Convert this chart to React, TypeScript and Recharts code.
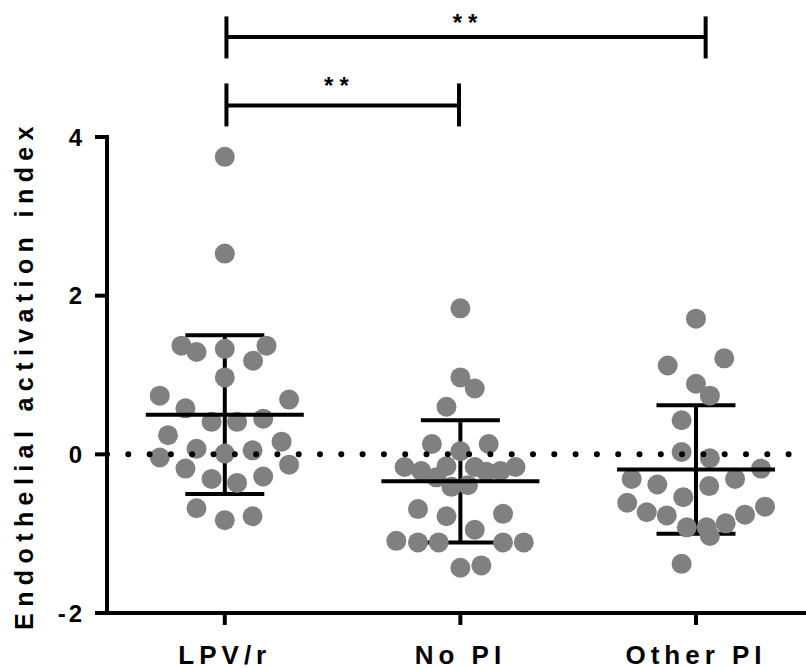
import React from 'react';
import {
  ScatterChart,
  Scatter,
  XAxis,
  YAxis,
  ErrorBar,
  ReferenceLine,
  ReferenceDot,
} from 'recharts';

const FONT = '"Liberation Sans", Arial, Helvetica, sans-serif';
const DOT_COLOR = '#808080';

const groups = ['LPV/r', 'No PI', 'Other PI'];
const yTicks = [-2, 0, 2, 4];

// individual values; jitter = horizontal spread in category units
const lpvValues = [
  3.75, 2.53, 1.37, 1.29, 1.33, 1.37, 1.18, 0.97, 0.74, 0.69, 0.58, 0.41, 0.41, 0.45,
  0.24, 0.07, 0.01, 0.05, 0.16, -0.04, -0.13, -0.18, -0.31, -0.36, -0.28, -0.68, -0.83, -0.78,
];
const lpvJitter = [
  0, 0, -0.184, -0.12, 0, 0.177, 0.12, 0, -0.276, 0.273, -0.167, -0.056, 0.052, 0.163,
  -0.241, -0.12, 0, 0.118, 0.241, -0.276, 0.273, -0.167, -0.056, 0.052, 0.163, -0.12, 0, 0.118,
];

const noPiValues = [
  1.84, 0.97, 0.83, 0.6, 0.13, 0.13, 0.04, -0.16, -0.21, -0.15, -0.29, -0.16, -0.22, -0.21,
  -0.16, -0.41, -0.39, -0.69, -0.78, -0.75, -0.95, -1.09, -1.11, -1.11, -1.11, -1.11, -1.43, -1.4,
];
const noPiJitter = [
  0, 0, 0.061, -0.059, -0.121, 0.12, 0, -0.237, -0.166, -0.059, -0.102, 0.061, 0.11, 0.17,
  0.234, -0.038, 0.032, -0.18, -0.059, 0.181, 0.061, -0.272, -0.18, -0.092, 0.181, 0.269, 0, 0.089,
];

const otherPiValues = [
  1.71, 1.12, 1.21, 0.89, 0.74, 0.43, 0.03, -0.05, -0.18, -0.31, -0.38, -0.31, -0.4, -0.54,
  -0.61, -0.66, -0.73, -0.77, -0.76, -0.92, -0.92, -0.87, -1.03, -1.38,
];
const otherPiJitter = [
  0, -0.12, 0.12, 0, 0.059, -0.061, -0.061, 0.059, 0.276, -0.273, -0.164, 0.166, 0.056, -0.054,
  -0.292, 0.293, -0.209, -0.124, 0.208, -0.039, 0.045, 0.126, 0.059, -0.061,
];

// mean +/- SD per group
const means = [0.5, -0.34, -0.19];
const sds = [1.0, 0.77, 0.81];

const toPoints = (values: number[], jitter: number[], pos: number) =>
  values.map((v, i) => ({ x: pos + jitter[i], y: v }));

const lpvPoints = toPoints(lpvValues, lpvJitter, 1);
const noPiPoints = toPoints(noPiValues, noPiJitter, 2);
const otherPiPoints = toPoints(otherPiValues, otherPiJitter, 3);
const meanPoints = means.map((m, i) => ({ x: i + 1, y: m, sd: sds[i] }));
const zeroLine = [
  { x: 0.5, y: 0 },
  { x: 3.467, y: 0 },
];

const Dot = (p: any) => <circle cx={p.cx} cy={p.cy} r={10} fill={DOT_COLOR} />;
const MeanBar = (p: any) => (
  <line x1={p.cx - 79} x2={p.cx + 79} y1={p.cy} y2={p.cy} stroke="#000" strokeWidth={4} />
);
const Stars = (p: any) => (
  <text
    x={p.cx}
    y={p.cy}
    dx={3}
    textAnchor="middle"
    fontFamily={FONT}
    fontWeight={700}
    fontSize={24}
    letterSpacing={6}
    fill="#000"
  >
    **
  </text>
);

const YTitle = (props: any) => {
  const vb = props.viewBox || { y: 137, height: 476 };
  const cy = vb.y + vb.height / 2;
  return (
    <text
      x={33}
      y={cy}
      transform={`rotate(-90 33 ${cy})`}
      textAnchor="middle"
      fontFamily={FONT}
      fontWeight={700}
      fontSize={25}
      letterSpacing={6.4}
      fill="#000"
    >
      Endothelial activation index
    </text>
  );
};

const bracket = { stroke: '#000', strokeWidth: 4, ifOverflow: 'visible' as const };

export default function App() {
  return (
    <div style={{ position: 'absolute', left: 0, top: 0, background: '#fff' }}>
      <ScatterChart width={806} height={669} margin={{ top: 137, right: 0, bottom: 0, left: 0 }}>
        <XAxis
          type="number"
          dataKey="x"
          domain={[0.5, 3.467]}
          ticks={[1, 2, 3]}
          tickFormatter={(v: number) => groups[v - 1]}
          allowDataOverflow
          height={56}
          tickSize={12}
          tickMargin={21}
          axisLine={{ stroke: '#000', strokeWidth: 4, strokeLinecap: 'square' }}
          tickLine={{ stroke: '#000', strokeWidth: 4 }}
          tick={{ fill: '#000', fontSize: 26, fontWeight: 700, fontFamily: FONT, letterSpacing: 5 }}
        />
        <YAxis
          type="number"
          dataKey="y"
          domain={[-2, 4]}
          ticks={yTicks}
          allowDataOverflow
          width={107}
          tickSize={12}
          tickMargin={10}
          axisLine={{ stroke: '#000', strokeWidth: 4, strokeLinecap: 'square' }}
          tickLine={{ stroke: '#000', strokeWidth: 4 }}
          tick={{ fill: '#000', fontSize: 24, fontWeight: 700, fontFamily: FONT, letterSpacing: 3 }}
          label={{ content: YTitle }}
        />
        <Scatter data={lpvPoints} shape={Dot} isAnimationActive={false} />
        <Scatter data={noPiPoints} shape={Dot} isAnimationActive={false} />
        <Scatter data={otherPiPoints} shape={Dot} isAnimationActive={false} />
        <Scatter
          data={zeroLine}
          shape={() => <g />}
          line={{ stroke: '#000', strokeWidth: 6, strokeDasharray: '0 21.3', strokeLinecap: 'round' }}
          isAnimationActive={false}
        />
        <Scatter data={meanPoints} shape={MeanBar} isAnimationActive={false}>
          <ErrorBar dataKey="sd" direction="y" width={39.5} stroke="#000" strokeWidth={4} isAnimationActive={false} />
        </Scatter>
        {/* significance brackets above the plot */}
        <ReferenceLine segment={[{ x: 1.007, y: 5.259 }, { x: 3.041, y: 5.259 }]} {...bracket} />
        <ReferenceLine segment={[{ x: 1.007, y: 5.52 }, { x: 1.007, y: 4.99 }]} {...bracket} />
        <ReferenceLine segment={[{ x: 3.041, y: 5.52 }, { x: 3.041, y: 4.99 }]} {...bracket} />
        <ReferenceLine segment={[{ x: 1.007, y: 4.398 }, { x: 1.994, y: 4.398 }]} {...bracket} />
        <ReferenceLine segment={[{ x: 1.007, y: 4.675 }, { x: 1.007, y: 4.134 }]} {...bracket} />
        <ReferenceLine segment={[{ x: 1.994, y: 4.675 }, { x: 1.994, y: 4.134 }]} {...bracket} />
        <ReferenceDot x={2.02} y={5.34} r={0} ifOverflow="visible" shape={Stars} />
        <ReferenceDot x={1.474} y={4.54} r={0} ifOverflow="visible" shape={Stars} />
      </ScatterChart>
    </div>
  );
}
